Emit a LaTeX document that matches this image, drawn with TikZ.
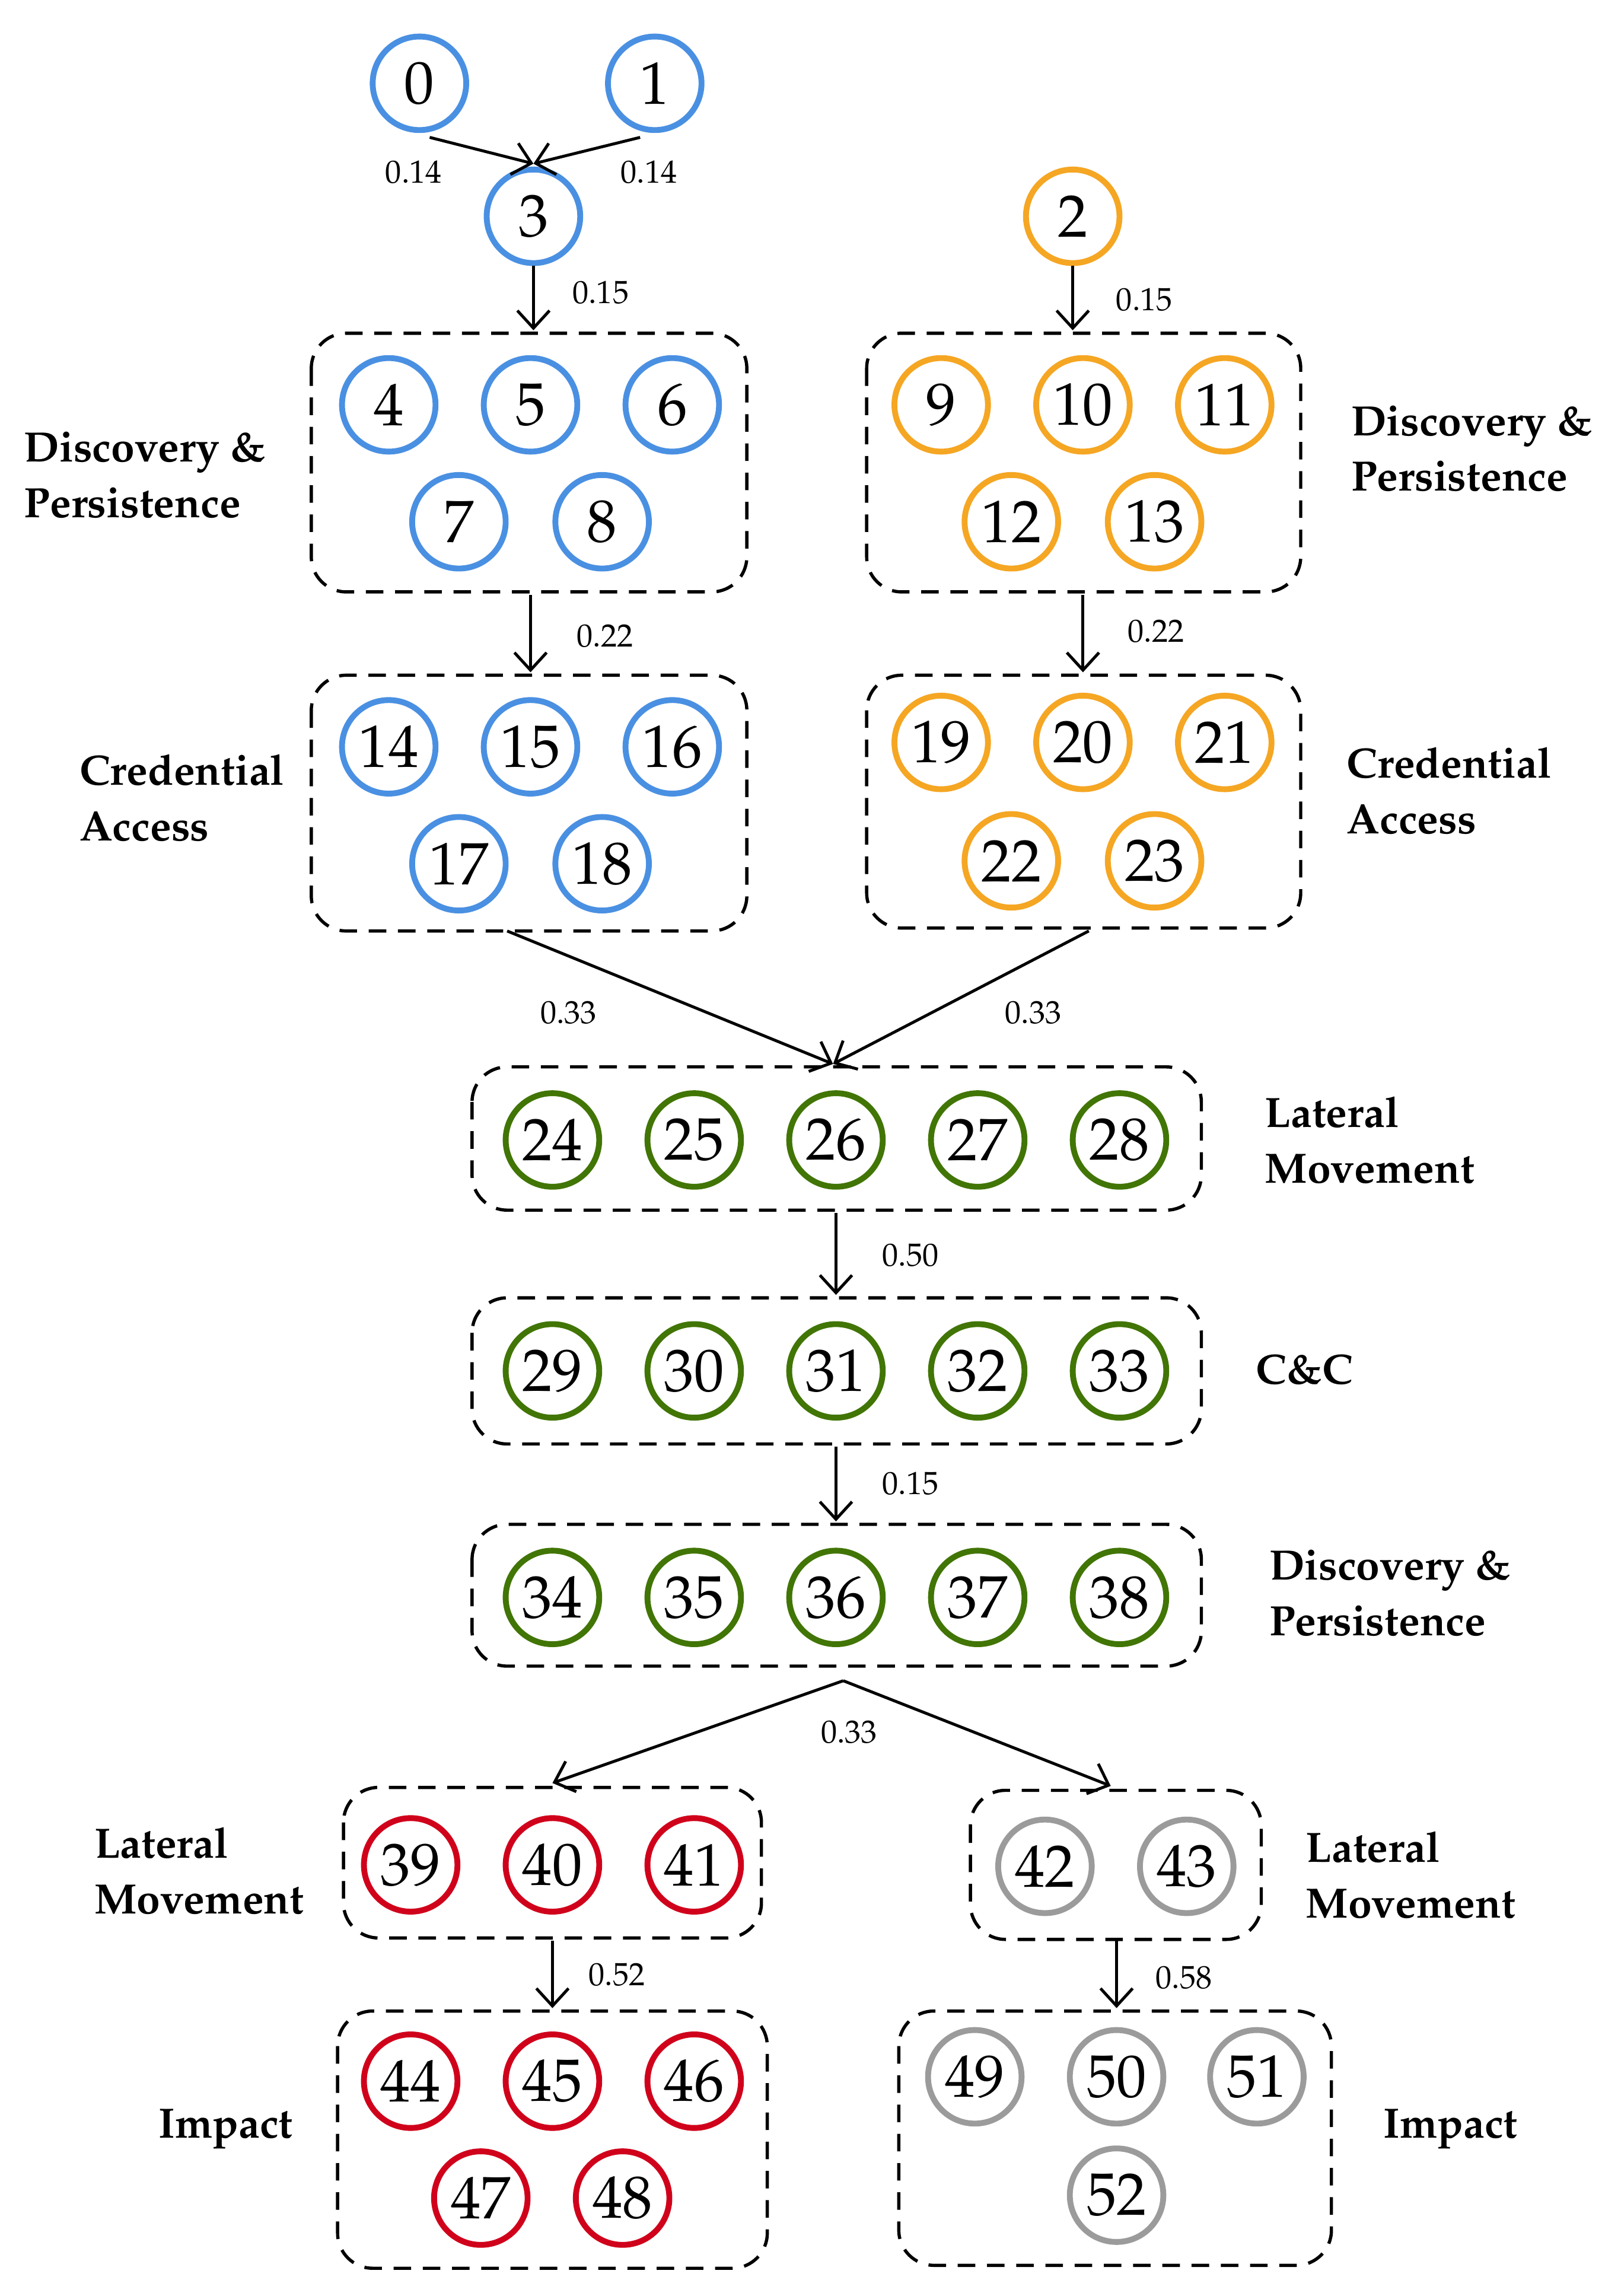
\documentclass[tikz,border=0pt]{standalone}
\usepackage[T1]{fontenc}
\usepackage{mathpazo}
\usetikzlibrary{arrows.meta}
\definecolor{cb}{RGB}{74,144,226}
\definecolor{co}{RGB}{245,166,35}
\definecolor{cg}{RGB}{65,117,5}
\definecolor{cr}{RGB}{208,2,27}
\definecolor{cy}{RGB}{155,155,155}
\begin{document}
\begin{tikzpicture}[x=1pt,y=-1pt,
  st/.style={circle,draw=#1,line width=4pt,minimum size=64pt,inner sep=0pt,text=black,font=\fontsize{41}{42}\selectfont},
  bx/.style={draw,dashed,line width=2.2pt,rounded corners=24pt,dash pattern=on 12pt off 8pt},
  ar/.style={line width=2pt,-{Straight Barb[length=12pt,width=22pt,line width=2pt]}},
  pr/.style={font=\fontsize{22}{24}\selectfont},
  lb/.style={font=\fontsize{29}{38}\selectfont\bfseries,align=left,anchor=west}]
\useasboundingbox (0,0) rectangle (1109,1571);
% top
\node[st=cb] (n0) at (287,57) {0};
\node[st=cb] (n1) at (448,57) {1};
\node[st=cb] (n3) at (365,148) {3};
\node[st=co] (n2) at (734,148) {2};
\coordinate (m0) at (365,112);
\coordinate (s0) at (294,94);
\coordinate (s1) at (438,94);
\draw[ar] (s0) -- (m0);
\draw[ar] (s1) -- (m0);
\node[pr] at (283,118) {0.14};
\node[pr] at (444,118) {0.14};
% boxes
\draw[bx] (213,228) rectangle (511,405);
\coordinate (bAt) at (365,226); \coordinate (bAb) at (363,407);
\draw[bx] (593,228) rectangle (890,405);
\coordinate (bBt) at (734,226); \coordinate (bBb) at (741,407);
\draw[bx] (213,462) rectangle (511,637);
\coordinate (bCt) at (363,460); \coordinate (bCb) at (347,637);
\draw[bx] (593,462) rectangle (890,635);
\coordinate (bDt) at (741,460); \coordinate (bDb) at (745,637);
\draw[bx] (323,730) rectangle (822,828);
\coordinate (bEt) at (570,728); \coordinate (bEb) at (572,830);
\draw[bx] (323,888) rectangle (822,988);
\coordinate (bFt) at (572,886); \coordinate (bFb) at (572,990);
\draw[bx] (323,1043) rectangle (822,1140);
\coordinate (bGt) at (572,1041); \coordinate (bGb) at (577,1150);
\draw[bx] (235,1223) rectangle (521,1326);
\coordinate (bHt) at (378,1220); \coordinate (bHb) at (378,1328);
\draw[bx] (664,1225) rectangle (863,1327);
\coordinate (bIt) at (760,1222); \coordinate (bIb) at (764,1328);
\draw[bx] (231,1376) rectangle (525,1552);
\coordinate (bJt) at (378,1374);
\draw[bx] (615,1376) rectangle (911,1550);
\coordinate (bKt) at (764,1374);
% circles
\foreach \n/\x/\y in {4/266/277,5/363/277,6/460/277,7/314/357,8/412/357,14/266/511,15/363/511,16/460/511,17/314/591,18/412/591}
  \node[st=cb] (n\n) at (\x,\y) {\n};
\foreach \n/\x/\y in {9/644/277,10/741/277,11/838/277,12/692/357,13/790/357,19/644/508,20/741/508,21/838/508,22/692/589,23/790/589}
  \node[st=co] (n\n) at (\x,\y) {\n};
\foreach \n/\x in {24/378,25/475,26/572,27/669,28/766} \node[st=cg] (n\n) at (\x,780) {\n};
\foreach \n/\x in {29/378,30/475,31/572,32/669,33/766} \node[st=cg] (n\n) at (\x,938) {\n};
\foreach \n/\x in {34/378,35/475,36/572,37/669,38/766} \node[st=cg] (n\n) at (\x,1093) {\n};
\foreach \n/\x/\y in {39/281/1276,40/378/1276,41/475/1276,44/281/1424,45/378/1424,46/475/1424,47/329/1504,48/426/1504}
  \node[st=cr] (n\n) at (\x,\y) {\n};
\foreach \n/\x/\y in {42/715/1277,43/812/1277,49/667/1421,50/764/1421,51/860/1421,52/764/1502}
  \node[st=cy] (n\n) at (\x,\y) {\n};
% arrows
\draw[ar] (n3) -- (bAt); \node[pr] at (411,200) {0.15};
\draw[ar] (n2) -- (bBt); \node[pr] at (783,205) {0.15};
\draw[ar] (bAb) -- (bCt); \node[pr] at (414,435) {0.22};
\draw[ar] (bBb) -- (bDt); \node[pr] at (791,432) {0.22};
\draw[ar] (bCb) -- (bEt); \node[pr] at (389,693) {0.33};
\draw[ar] (bDb) -- (bEt); \node[pr] at (707,693) {0.33};
\draw[ar] (bEb) -- (bFt); \node[pr] at (623,859) {0.50};
\draw[ar] (bFb) -- (bGt); \node[pr] at (623,1015) {0.15};
\draw[ar] (bGb) -- (bHt);
\draw[ar] (bGb) -- (bIt); \node[pr] at (581,1185) {0.33};
\draw[ar] (bHb) -- (bJt); \node[pr] at (422,1351) {0.52};
\draw[ar] (bIb) -- (bKt); \node[pr] at (810,1353) {0.58};
% labels
\node[lb] (l1) at (13,325) {Discovery \&\\Persistence};
\node[lb] (l2) at (921,307) {Discovery \&\\Persistence};
\node[lb] (l3) at (51,546) {Credential\\Access};
\node[lb] (l4) at (918,541) {Credential\\Access};
\node[lb] (l5) at (862,780) {Lateral\\Movement};
\node[lb] (l6) at (856,937) {C\&C};
\node[lb] (l7) at (865,1090) {Discovery \&\\Persistence};
\node[lb] (l8) at (61,1280) {Lateral\\Movement};
\node[lb] (l9) at (890,1283) {Lateral\\Movement};
\node[lb] (l10) at (105,1457) {Impact};
\node[lb] (l11) at (943,1457) {Impact};
\end{tikzpicture}
\end{document}
